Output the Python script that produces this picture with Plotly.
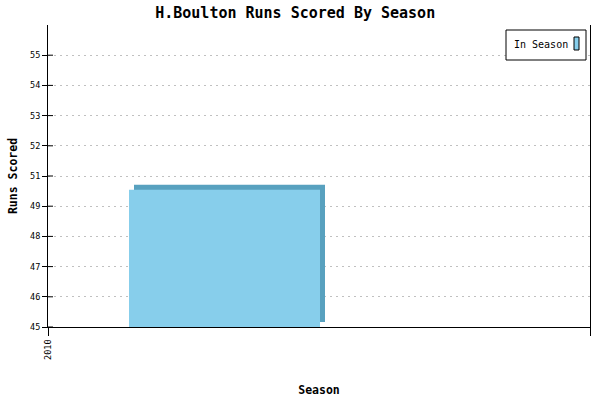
import plotly.graph_objects as go

# ---- data ----
seasons = [2010]
runs = [50]
series_name = "In Season"
y_tick_values = [45 + 1.1 * i for i in range(10)]
y_tick_labels = ["45", "46", "47", "48", "49", "51", "52", "53", "54", "55"]
x_tick_labels = ["2010", ""]

# ---- layout geometry (pixels) ----
W, H = 600, 400
L, R, T, B = 48, 10, 25, 73
PW, PH = W - L - R, H - T - B
Y0, Y1 = 45, 56
DEPTH = 5  # 3D depth in px

front = "#87CEEB"
side = "#58A1BF"
mono = "DejaVu Sans Mono"

dx = DEPTH / PW * 1.0
dy = DEPTH / PH * (Y1 - Y0)
bar_offset = (129 - L) / PW
bar_width = (320 - 129) / PW

fig = go.Figure()
# 3D back face (top + side)
fig.add_trace(go.Bar(
    x=seasons, y=[v - Y0 for v in runs], base=[Y0 + dy] * len(runs),
    offset=bar_offset + dx, width=bar_width,
    marker=dict(color=side, line=dict(width=0)),
    showlegend=False, hoverinfo="skip"))
# front face
fig.add_trace(go.Bar(
    x=seasons, y=[v - Y0 for v in runs], base=[Y0] * len(runs),
    offset=bar_offset, width=bar_width,
    marker=dict(color=front, line=dict(width=0)),
    name=series_name, showlegend=False))

fig.update_layout(
    width=W, height=H,
    margin=dict(l=L, r=R, t=T, b=B, autoexpand=False),
    paper_bgcolor="white", plot_bgcolor="white",
    barmode="overlay",
    title=dict(text="H.Boulton Runs Scored By Season", x=0.492, xanchor="center",
               y=1 - 13 / H, yanchor="middle", automargin=False,
               font=dict(family=mono, size=15, color="black", weight="bold")),
    xaxis=dict(range=[seasons[0], seasons[0] + 1], automargin=False,
               tickvals=[seasons[0], seasons[0] + 1], ticktext=x_tick_labels,
               tickangle=-90, ticks="outside", ticklen=8, tickcolor="black",
               tickfont=dict(family=mono, size=8.5, color="black"),
               showline=True, linecolor="black", linewidth=1,
               showgrid=False, zeroline=False,
               title=dict(text="Season", standoff=27,
                          font=dict(family=mono, size=11.5, color="black", weight="bold"))),
    yaxis=dict(range=[Y0, Y1], tickvals=y_tick_values, ticktext=y_tick_labels,
               automargin=False,
               ticks="outside", ticklen=5, tickcolor="black",
               tickfont=dict(family=mono, size=8.5, color="black"),
               showline=True, mirror=True, linecolor="black", linewidth=1,
               showgrid=True, gridcolor="#c0c0c0", griddash="2px,4px", gridwidth=1,
               zeroline=False,
               title=dict(text="Runs Scored", standoff=10,
                          font=dict(family=mono, size=11.5, color="black", weight="bold"))),
)

# inside half of the crossing y ticks
for v in y_tick_values:
    fig.add_shape(type="line", xref="paper", yref="y", x0=0, x1=5 / PW, y0=v, y1=v,
                  line=dict(color="black", width=1), layer="above")

# legend box (symbol on the right, as in the reference)
def px(xp):
    return (xp - L) / PW

def py(yp):
    return 1 - (yp - T) / PH

fig.add_shape(type="rect", xref="paper", yref="paper",
              x0=px(506), x1=px(586), y0=py(60), y1=py(30),
              line=dict(color="black", width=1), fillcolor="white", layer="above")
fig.add_shape(type="rect", xref="paper", yref="paper",
              x0=px(574), x1=px(579), y0=py(50), y1=py(37),
              line=dict(color="black", width=1), fillcolor=front, layer="above")
fig.add_annotation(text=series_name, xref="paper", yref="paper",
                   x=px(512), y=py(44), xanchor="left", yanchor="middle",
                   showarrow=False, font=dict(family=mono, size=10, color="black"))

fig.write_html("out.html", config={"displayModeBar": False},
               post_script="document.body.style.margin='0';")
